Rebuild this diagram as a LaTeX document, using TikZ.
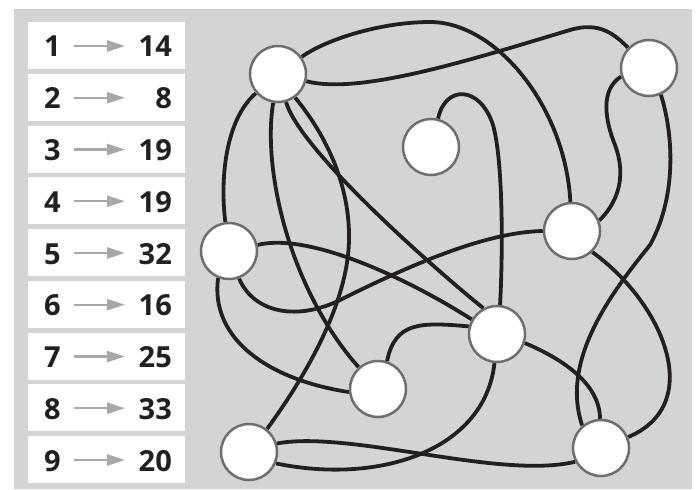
\documentclass[tikz,border=0pt]{standalone}
\usepackage{fontspec}
\setmainfont{Open Sans}
\usetikzlibrary{arrows.meta}
\definecolor{panel}{HTML}{D4D4D4}
\definecolor{ink}{HTML}{231F20}
\definecolor{ring}{HTML}{6E6E6E}
\definecolor{arrowgray}{HTML}{A8A8A8}
\pgfdeclarelayer{back}
\pgfdeclarelayer{wires}
\pgfsetlayers{back,wires,main}
\begin{document}
\begin{tikzpicture}[x=1pt,y=-1pt,
  vert/.style={circle, draw=ring, line width=2.5pt, fill=white, minimum size=56pt, inner sep=0pt},
  wire/.style={draw=ink, line width=3.8pt},
  listbox/.style={fill=white, minimum width=157pt, minimum height=47pt, inner sep=0pt, anchor=north west},
  numl/.style={anchor=base, inner sep=0pt, text=ink, font=\fontsize{29}{29}\selectfont\bfseries},
  numr/.style={anchor=base east, inner sep=0pt, text=ink, font=\fontsize{29}{29}\selectfont\bfseries},
  arr/.style={draw=arrowgray, line width=2.4pt, -{Triangle[length=18pt,width=11pt]}}
]
\begin{pgfonlayer}{back}
\fill[white] (0,0) rectangle (700,489);
\fill[panel] (14,9) rectangle (692,489);
\end{pgfonlayer}
\useasboundingbox (0,0) rectangle (700,489);

% list on the left
\foreach \i/\a/\b in {1/1/14,2/2/8,3/3/19,4/4/19,5/5/32,6/6/16,7/7/25,8/8/33,9/9/20} {
  \pgfmathsetmacro\t{22+(\i-1)*51.75}
  \node[listbox] (box\i) at (28,\t) {};
  \node[numl] (left\i) at (52.5,\t+35) {\a};
  \node[numr] (right\i) at (172,\t+35) {\b};
  \coordinate (from\i) at (74,\t+24);
  \coordinate (to\i) at (125,\t+24);
  \draw[arr] (from\i) -- (to\i);
}

% vertices
\node[vert] (A) at (278,74) {};
\node[vert] (B) at (431,147) {};
\node[vert] (C) at (649,68) {};
\node[vert] (D) at (229,251) {};
\node[vert] (E) at (572,231) {};
\node[vert] (F) at (497,334) {};
\node[vert] (G) at (378,389) {};
\node[vert] (H) at (249,452) {};
\node[vert] (I) at (601,448) {};

\begin{pgfonlayer}{wires}
\draw[wire] (A) .. controls (325,40) and (380,22) .. (430,22) .. controls (495,22) and (565,105) .. (E);
\draw[wire] (A) .. controls (360,95) and (470,60) .. (570,30) .. controls (600,21) and (615,35) .. (C);
\draw[wire] (A) .. controls (225,120) and (220,180) .. (D);
\draw[wire] (A) .. controls (262,170) and (290,290) .. (G);
\draw[wire] (A.-74) .. controls (300,150) and (430,265) .. (F.118);
\draw[wire] (A.-54) .. controls (330,140) and (350,190) .. (349,240) .. controls (348,300) and (310,370) .. (H.52);
\draw[wire] (B.76) .. controls (445,85) and (480,85) .. (493,125) .. controls (503,160) and (503,250) .. (F.84);
\draw[wire] (C.197) .. controls (600,90) and (605,120) .. (615,145) .. controls (628,180) and (615,205) .. (E.21);
\draw[wire] (C.-66) .. controls (675,140) and (675,200) .. (650,245) .. controls (612,292) and (560,360) .. (I.130);
\draw[wire] (D.-70) .. controls (255,315) and (300,320) .. (340,300) .. controls (420,260) and (490,232) .. (E.180);
\draw[wire] (D.12) .. controls (310,232) and (410,280) .. (F.150);
\draw[wire] (D.-112) .. controls (210,340) and (270,380) .. (G.186);
\draw[wire] (G.72) .. controls (395,322) and (420,322) .. (F.165);
\draw[wire] (H.-23) .. controls (380,485) and (485,450) .. (F.-95);
\draw[wire] (H.17) .. controls (350,430) and (500,480) .. (I.208);
\draw[wire] (F.-18) .. controls (565,360) and (600,385) .. (I.92);
\draw[wire] (E.-46) .. controls (665,305) and (705,405) .. (I.22);
\end{pgfonlayer}
\end{tikzpicture}
\end{document}
